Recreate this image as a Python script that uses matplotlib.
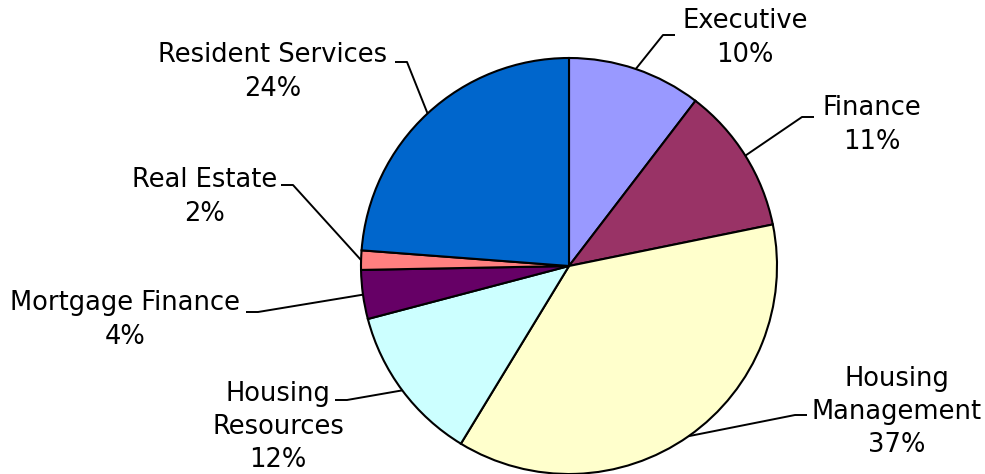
import numpy as np
import matplotlib.pyplot as plt

# department share of budget (percent), clockwise from 12 o'clock
depts = ['Executive', 'Finance', 'Housing\nManagement', 'Housing\nResources',
         'Mortgage Finance', 'Real Estate', 'Resident Services']
shares = [10.4, 11.4, 36.9, 12.2, 3.8, 1.5, 23.8]
colors = ['#9999FF', '#993366', '#FFFFCC', '#CCFFFF', '#660066', '#FF8080', '#0066CC']

# label layout in pixel coords (image y measured from top)
label_xy = [(745, 38), (872, 125), (897, 412), (278, 427),
            (125, 320), (205, 197), (273, 72)]
elbow_xy = [(663, 35), (802, 117), (795, 415), (347, 400),
            (258, 312), (293, 185), (407, 62)]

W, H = 985, 474
cx, cy, r = 569, 266, 208

fig = plt.figure(figsize=(W / 100, H / 100), dpi=100)
ax = fig.add_axes([0, 0, 1, 1])

wedges, _ = ax.pie(shares, colors=colors, startangle=90, counterclock=False,
                   center=(cx, H - cy), radius=r,
                   wedgeprops=dict(edgecolor='black', linewidth=1.5))
ax.set_xlim(0, W)
ax.set_ylim(0, H)
ax.set_aspect('equal')
ax.axis('off')

tot = sum(shares)
cum = 0.0
for name, v, (lx, ly), (ex, ey) in zip(depts, shares, label_xy, elbow_xy):
    mid = cum + v / 2
    cum += v
    ang = np.deg2rad(90 - 360 * mid / tot)
    px = cx + r * np.cos(ang)
    py = (H - cy) + r * np.sin(ang)
    # short horizontal tick toward the label
    hx = ex + 12 if lx > ex else ex - 12
    ax.plot([px, ex, hx], [py, H - ey, H - ey], color='black', lw=1.4,
            solid_capstyle='butt')
    ax.text(lx, H - ly, f'{name}\n{v:.0f}%', ha='center', va='center',
            fontsize=18.5, linespacing=1.36, color='black')

fig.savefig('out.png', dpi=100)
